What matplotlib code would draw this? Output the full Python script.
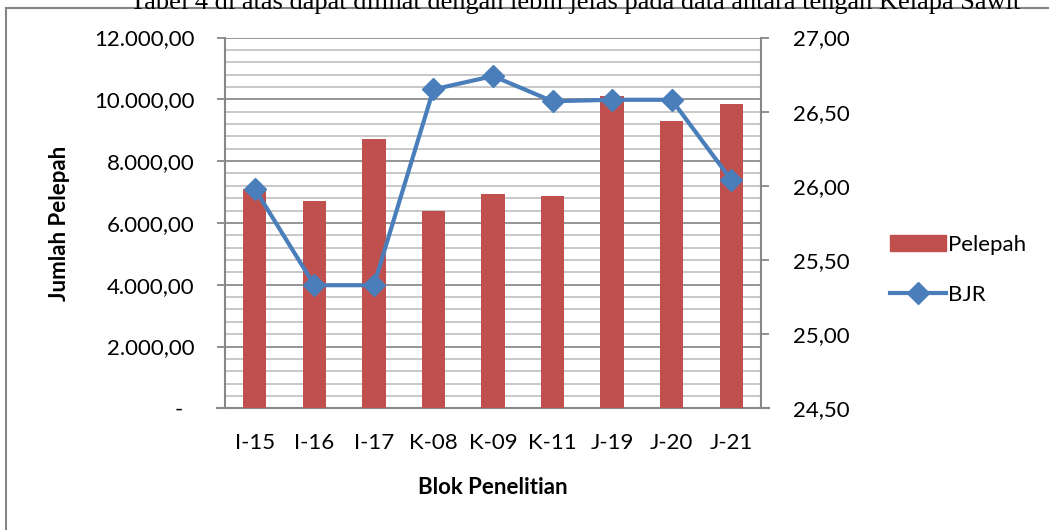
import numpy as np
import matplotlib.pyplot as plt
from matplotlib.ticker import MultipleLocator, FixedLocator, FuncFormatter
from matplotlib.patches import Rectangle
from matplotlib.lines import Line2D

plt.rcParams['font.family'] = ['Lato', 'DejaVu Sans']

blok = ['I-15', 'I-16', 'I-17', 'K-08', 'K-09', 'K-11', 'J-19', 'J-20', 'J-21']
pelepah = [7100, 6720, 8710, 6370, 6950, 6880, 10110, 9300, 9840]
bjr = [25.98, 25.33, 25.33, 26.65, 26.74, 26.57, 26.58, 26.58, 26.04]

left_ticks = [0, 2000, 4000, 6000, 8000, 10000, 12000]
right_ticks = [24.5, 25.0, 25.5, 26.0, 26.5, 27.0]

bar_col = '#c0504d'
line_col = '#4a7ebb'
axis_col = '#888888'


def rupiah_fmt(v, pos):
    if v == 0:
        return '-  '
    s = f'{v:,.2f}'
    return s.replace(',', 'X').replace('.', ',').replace('X', '.')


fig = plt.figure(figsize=(10.49, 5.30), dpi=100)
ax = fig.add_axes([225/1049, 1-408.3/530, (761-225)/1049, (408.3-37.5)/530])

x = np.arange(len(blok))
ax.bar(x, pelepah, width=0.39, color=bar_col, zorder=3)
ax.set_xlim(-0.5, len(blok)-0.5)
ax.set_ylim(0, 12000)

# gridlines: light every 400, darker every 2000
ax.yaxis.set_major_locator(FixedLocator(left_ticks))
ax.yaxis.set_minor_locator(MultipleLocator(400))
ax.yaxis.set_major_formatter(FuncFormatter(rupiah_fmt))
ax.grid(which='minor', axis='y', color='#c4c4c4', lw=1.3, zorder=0)
ax.grid(which='major', axis='y', color='#8c8c8c', lw=1.3, zorder=1)
ax.tick_params(axis='y', which='major', direction='out', length=6, width=1.3,
               color=axis_col, pad=16, labelsize=16)
ax.tick_params(axis='y', which='minor', length=0)
ax.set_xticks(x)
ax.set_xticklabels(blok)
ax.tick_params(axis='x', length=0, pad=18, labelsize=16)

for side in ['top', 'right']:
    ax.spines[side].set_visible(False)
for side in ['left', 'bottom']:
    ax.spines[side].set_color(axis_col)
    ax.spines[side].set_linewidth(1.5)
ax.spines['bottom'].set_bounds(-0.5 - 8/59.6, len(blok) - 0.5 + 8/59.6)

ax.set_ylabel('Jumlah Pelepah', fontsize=16, fontweight='bold', labelpad=17)
ax.set_xlabel('Blok Penelitian', fontsize=16, fontweight='bold', labelpad=17)

ax2 = ax.twinx()
ax2.plot(x, bjr, color=line_col, lw=3, marker='D', markersize=11,
         zorder=5, solid_joinstyle='round')
ax2.set_ylim(24.5, 27.0)
ax2.yaxis.set_major_locator(FixedLocator(right_ticks))
ax2.yaxis.set_major_formatter(FuncFormatter(lambda v, p: f'{v:.2f}'.replace('.', ',')))
ax2.tick_params(axis='y', direction='out', length=6, width=1.3, color=axis_col,
                pad=17, labelsize=16)
for side in ['top', 'left', 'bottom']:
    ax2.spines[side].set_visible(False)
ax2.spines['right'].set_color(axis_col)
ax2.spines['right'].set_linewidth(1.5)

handles = [Rectangle((0, 0), 1, 1, color=bar_col),
           Line2D([], [], color=line_col, lw=3, marker='D', markersize=11)]
fig.legend(handles, ['Pelepah', 'BJR'], loc='center left',
           bbox_to_anchor=(870/1049, 1-270/530), frameon=False, fontsize=16,
           handlelength=2.5, handletextpad=0.1, labelspacing=1.35)

# frame of the chart area and the caption line above it
fig.patches.append(Rectangle((6/1049, -0.2), 1.2, 1.2 - 8/530,
                             transform=fig.transFigure, fill=False,
                             edgecolor='#868686', lw=1.5))
fig.text(0.548, 1 - 9/530,
         'Tabel 4 di atas dapat dilihat dengan lebih jelas pada data antara tengah Kelapa Sawit',
         family='Liberation Serif', fontsize=19, ha='center', va='baseline')

fig.savefig('out.png', dpi=100)
